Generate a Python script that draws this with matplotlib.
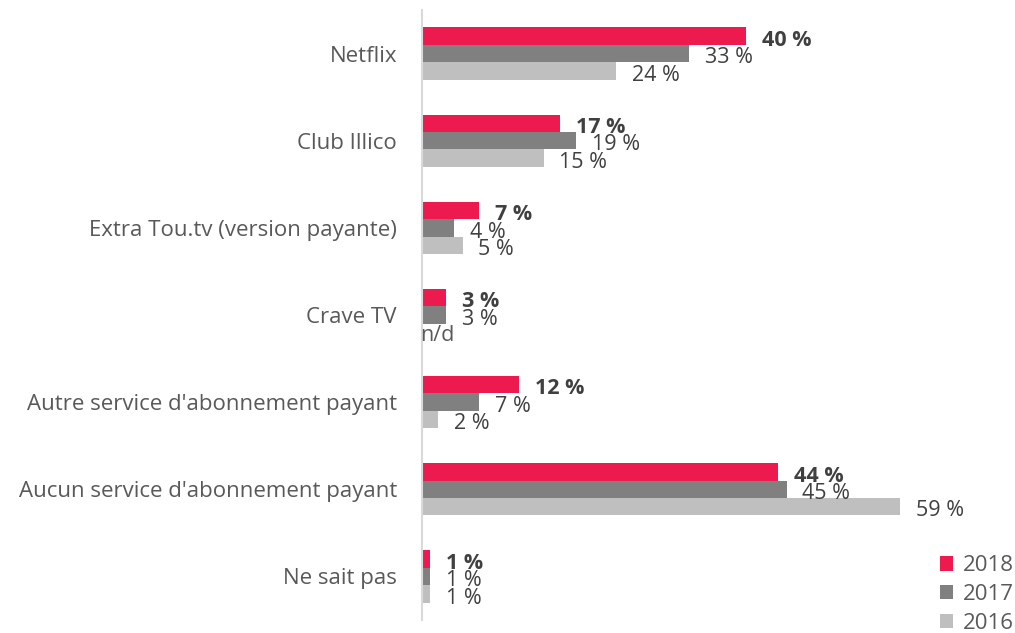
import matplotlib
matplotlib.use("Agg")
import matplotlib.pyplot as plt
from matplotlib.patches import Patch
import numpy as np

categories = ["Netflix", "Club Illico", "Extra Tou.tv (version payante)", "Crave TV",
              "Autre service d'abonnement payant", "Aucun service d'abonnement payant",
              "Ne sait pas"]
years = ["2018", "2017", "2016"]
v2018 = [40, 17, 7, 3, 12, 44, 1]
v2017 = [33, 19, 4, 3, 7, 45, 1]
v2016 = [24, 15, 5, None, 2, 59, 1]
series = [v2018, v2017, v2016]
colors = ["#EC1A4F", "#808080", "#BFBFBF"]

plt.rcParams['font.family'] = ['Open Sans', 'DejaVu Sans']

W, H = 1015, 633
fig = plt.figure(figsize=(W / 100, H / 100), dpi=100)
ax = fig.add_axes([422 / W, 13 / H, 567 / W, 610 / H])

bh = 0.2
y = np.arange(len(categories))
for i, (vals, col) in enumerate(zip(series, colors)):
    yy = y + (i - 1) * bh
    for yi, v in zip(yy, vals):
        if v is None:
            ax.annotate("n/d", xy=(0, yi), xytext=(-1, -2), textcoords="offset points",
                        ha="left", va="center", fontsize=15.5, color="#595959")
            continue
        ax.barh(yi, v, height=bh, color=col)
        ax.annotate(f"{v} %", xy=(v, yi), xytext=(11.5, -3), textcoords="offset points",
                    ha="left", va="center", fontsize=15.5, color="#404040",
                    fontweight="bold" if i == 0 else "normal")

ax.set_xlim(0, 70)
ax.set_ylim(6.5, -0.5)
ax.set_yticks(y)
ax.set_yticklabels(categories, fontsize=16, color="#595959")
ax.tick_params(axis="y", length=0, pad=18)
ax.set_xticks([])
for s in ["top", "right", "bottom"]:
    ax.spines[s].set_visible(False)
ax.spines["left"].set_color("#D9D9D9")
ax.spines["left"].set_linewidth(1.5)

handles = [Patch(facecolor=c, edgecolor="none") for c in colors]
fig.legend(handles, years, loc="lower right", bbox_to_anchor=(1.019, -0.033),
           frameon=False, fontsize=16, handlelength=0.6, handleheight=0.6,
           handletextpad=0.45, labelspacing=0.35, labelcolor="#595959")

fig.savefig("out.png", dpi=100)
